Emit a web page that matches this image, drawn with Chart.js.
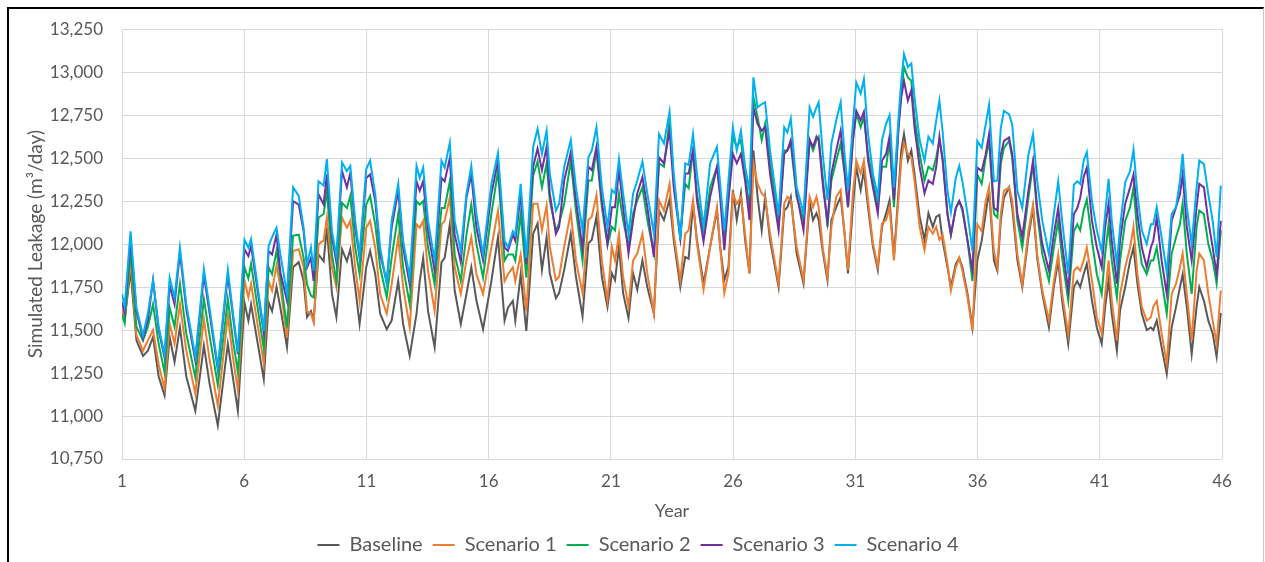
<!DOCTYPE html>
<html>
<head>
<meta charset="utf-8">
<script src="https://cdn.jsdelivr.net/npm/chart.js@4"></script>
<style>
  html, body { margin: 0; padding: 0; background: #fff; }
  #wrap { position: absolute; left: 0; top: 0; width: 1265px; height: 562px; }
  #frame { position: absolute; left: 7px; top: 7px; width: 1254px; height: 600px;
           border-left: 2px solid #000; border-top: 2px solid #000; border-right: 1px solid #c8c8c8;
           pointer-events: none; }
</style>
</head>
<body>
<div id="wrap"><canvas id="leak"></canvas></div>
<div id="frame"></div>
<script>
// time in years (at the turning points of the curves)
const years = [
  1.00,1.11,1.35,1.59,1.86,2.06,2.27,2.50,2.74,2.95,3.15,3.37,3.63,4.00,4.35,4.58,4.92,5.33,5.53,5.74,6.01,6.17,6.28,
  6.80,7.00,7.14,7.32,7.48,7.75,8.00,8.23,8.43,8.57,8.73,8.84,9.04,9.25,9.38,9.59,9.77,10.00,10.20,10.34,10.54,10.72,10.99,11.15,11.36,11.56,11.83,
  12.03,12.30,12.50,12.77,13.05,13.18,13.32,13.52,13.79,14.07,14.20,14.41,14.61,14.86,15.09,15.29,15.50,15.77,16.11,16.38,16.65,16.79,16.99,17.09,17.31,17.54,
  17.82,18.00,18.18,18.37,18.50,18.75,18.88,19.09,19.36,19.57,19.84,20.08,20.22,20.41,20.63,20.86,21.04,21.17,21.33,21.50,21.72,21.91,22.08,22.29,22.49,22.76,22.97,23.17,
  23.40,23.57,23.84,24.04,24.18,24.36,24.52,24.79,25.06,25.34,25.47,25.64,25.81,25.99,26.15,26.32,26.49,26.67,26.83,27.00,27.17,27.31,27.51,27.86,28.09,28.22,28.36,28.60,28.88,
  29.13,29.27,29.41,29.50,29.68,29.86,30.02,30.22,30.40,30.56,30.70,30.90,31.04,31.22,31.35,31.52,31.72,31.92,32.09,32.26,32.40,32.58,32.77,32.88,32.99,33.15,33.29,33.42,33.63,33.83,33.99,34.17,34.31,34.44,
  34.57,34.77,34.91,35.11,35.25,35.38,35.59,35.79,35.99,36.17,36.33,36.47,36.67,36.81,36.95,37.08,37.29,37.42,37.63,37.83,38.08,38.27,38.44,38.65,38.92,39.12,39.30,39.46,39.71,39.94,40.08,
  40.20,40.34,40.47,40.68,40.88,41.08,41.22,41.36,41.49,41.70,41.83,42.04,42.24,42.38,42.54,42.72,42.92,43.09,43.19,43.33,43.53,43.74,43.94,44.12,44.28,44.39,44.56,44.76,44.96,45.07,45.26,45.44,45.62,45.78,45.95
];

const baseline = [
  11600,11565,11845,11440,11350,11380,11460,11230,11120,11460,11315,11515,11230,11030,11410,11190,10945,11420,11230,11030,11660,11555,11650,
  11215,11660,11610,11750,11630,11400,11865,11895,11785,11575,11610,11555,11940,11900,12095,11710,11575,11970,11900,11970,11750,11535,11865,11960,11825,11595,11505,
  11555,11785,11535,11350,11595,11785,11920,11610,11400,11895,11920,12115,11730,11535,11710,11865,11670,11505,11785,12040,11555,11630,11670,11555,11825,11495,
  12060,12120,11850,12040,11830,11685,11715,11850,12060,11810,11580,12005,12025,12160,11810,11635,11830,11790,11985,11715,11570,11830,11735,11905,11750,11595,12195,12140,
  12260,12025,11750,11925,11915,12235,12025,11770,11985,12195,11985,11790,11870,12315,12140,12295,12025,11830,12545,12275,12080,12275,12025,11750,12195,12215,12275,11945,11770,
  12245,12140,12180,12140,11945,11790,12140,12215,12275,12060,11830,12215,12450,12315,12430,12215,11985,11850,12100,12180,12255,11925,12315,12545,12640,12485,12545,12410,12160,12025,12180,12100,12160,12170,
  12020,11865,11750,11885,11920,11865,11710,11515,11905,12020,12175,12310,11905,11845,12135,12270,12330,12210,11905,11750,12040,12210,11920,11710,11515,11750,11905,11670,11420,11750,11785,
  11750,11825,11885,11670,11515,11420,11635,11790,11595,11380,11615,11750,11905,11980,11770,11595,11500,11515,11500,11555,11400,11245,11515,11635,11750,11825,11635,11360,11635,11750,11670,11555,11480,11345,11600
];

const scenario1 = [
  11620,11560,11905,11470,11380,11440,11500,11300,11160,11535,11420,11650,11380,11130,11565,11330,11060,11585,11350,11150,11790,11690,11770,
  11305,11785,11730,11875,11750,11455,11960,11970,11865,11610,11595,11545,12000,12020,12155,11865,11750,12155,12095,12135,11865,11670,12095,12135,11980,11710,11595,
  11765,12040,11750,11515,12115,12095,12135,11845,11610,12115,12135,12270,11865,11710,11905,12040,11825,11710,11980,12195,11785,11825,11865,11785,11940,11610,
  12235,12235,12080,12225,11985,11790,11810,11985,12185,11905,11715,12140,12160,12285,11905,11675,11985,11905,12060,11810,11635,11905,11945,12060,11830,11595,12255,12195,
  12350,12060,11790,12060,12080,12255,12005,11735,11985,12215,11985,11715,11830,12295,12235,12275,12060,11830,12470,12350,12295,12275,12060,11770,12235,12275,12255,11985,11790,
  12275,12215,12275,12215,11965,11810,12100,12275,12315,12060,11850,12295,12485,12410,12485,12255,12005,11870,12120,12140,12215,11905,12275,12485,12585,12525,12505,12370,12100,11965,12100,12060,12100,12025,
  12055,11885,11730,11865,11920,11845,11690,11495,12115,12075,12250,12330,11960,11865,12175,12310,12330,12250,11940,11765,12075,12230,11940,11730,11555,11785,11940,11710,11475,11845,11865,
  11845,11905,11980,11790,11575,11480,11710,11905,11670,11440,11710,11865,11980,12100,11825,11635,11555,11575,11635,11670,11480,11305,11710,11770,11865,11945,11710,11440,11845,11945,11905,11710,11555,11420,11730
];

const scenario2 = [
  11590,11540,11960,11520,11440,11520,11650,11420,11255,11630,11520,11770,11480,11225,11680,11470,11180,11680,11450,11255,11865,11800,11885,
  11390,11865,11825,11960,11805,11515,12050,12055,11920,11765,11700,11690,12155,12175,12310,11940,11785,12240,12210,12280,11980,11825,12230,12280,12115,11865,11690,
  11920,12175,11865,11650,12250,12230,12250,11980,11765,12210,12210,12365,11940,11785,12055,12230,12000,11805,12175,12425,11905,11940,11940,11905,12175,11805,
  12400,12480,12330,12470,12255,12080,12120,12235,12485,12195,11905,12370,12370,12545,12215,11995,12100,12080,12295,12140,11985,12180,12255,12330,12140,11945,12470,12450,
  12720,12370,12040,12350,12325,12545,12295,12060,12330,12450,12295,12040,12315,12625,12565,12605,12410,12215,12855,12740,12605,12700,12485,12100,12545,12545,12585,12275,12140,
  12605,12545,12605,12625,12370,12100,12370,12485,12585,12410,12215,12605,12760,12680,12740,12525,12370,12215,12450,12450,12605,12215,12700,12895,13030,12970,12950,12740,12525,12370,12450,12430,12505,12605,
  12500,12175,12055,12210,12250,12195,12020,11785,12405,12350,12500,12600,12175,12155,12465,12560,12600,12500,12135,11980,12270,12465,12175,11940,11785,11980,12135,11920,11670,12075,12115,
  12080,12195,12260,12020,11825,11710,11945,12115,11905,11690,11905,12135,12215,12330,12060,11885,11825,11905,11905,11980,11790,11595,11945,12040,12115,12235,11945,11710,12100,12195,12175,12000,11905,11770,12080
];

const scenario3 = [
  11660,11600,12030,11610,11450,11560,11790,11500,11340,11760,11650,11950,11620,11320,11820,11600,11270,11820,11590,11360,11970,11930,11990,
  11485,11960,11940,12055,11835,11670,12250,12230,12075,11865,11920,11785,12290,12230,12405,12040,11895,12425,12330,12415,12095,11920,12385,12405,12250,11940,11780,
  12095,12310,11980,11765,12365,12310,12365,12075,11845,12385,12365,12500,12055,11895,12270,12405,12095,11905,12290,12485,11980,11960,12055,12020,12290,11885,
  12450,12555,12430,12565,12295,12060,12100,12370,12535,12255,11975,12450,12430,12565,12255,12005,12215,12215,12430,12215,11945,12140,12295,12390,12215,11925,12505,12470,
  12660,12330,12035,12410,12410,12545,12255,12015,12275,12450,12275,11965,12255,12525,12470,12525,12370,12140,12795,12700,12660,12680,12410,12080,12525,12545,12605,12295,12080,
  12605,12565,12625,12605,12330,12130,12410,12545,12660,12430,12215,12605,12775,12720,12770,12485,12330,12180,12485,12525,12625,12255,12680,12855,12950,12835,12895,12680,12450,12295,12370,12350,12450,12625,
  12485,12175,12055,12210,12250,12210,12020,11845,12445,12425,12520,12640,12210,12195,12520,12600,12620,12520,12175,12040,12310,12485,12210,12000,11845,12055,12210,12000,11730,12175,12210,
  12270,12390,12445,12135,11980,11865,12100,12235,12020,11770,12020,12235,12330,12405,12175,11980,11865,11980,12020,12155,11905,11710,12135,12215,12290,12405,12100,11905,12215,12350,12330,12135,11980,11825,12135
];

const scenario4 = [
  11710,11640,12075,11630,11470,11600,11790,11520,11355,11805,11690,11980,11650,11345,11855,11630,11285,11850,11610,11370,12025,11980,12030,
  11495,11990,12040,12095,11940,11710,12330,12280,12095,11885,11980,11845,12365,12340,12495,12075,11930,12475,12425,12455,12135,11940,12435,12485,12290,11980,11765,
  12135,12350,12020,11805,12455,12385,12445,12135,11905,12485,12445,12590,12135,11960,12290,12455,12175,11940,12350,12530,12020,11980,12075,12055,12350,11920,
  12565,12670,12525,12660,12410,12195,12235,12450,12605,12330,12080,12505,12545,12680,12330,12100,12315,12295,12495,12295,12060,12295,12370,12480,12295,12060,12640,12585,
  12770,12410,12025,12470,12460,12640,12410,12100,12470,12565,12350,12080,12370,12680,12545,12660,12450,12315,12970,12795,12815,12825,12545,12170,12680,12650,12730,12330,12180,
  12795,12740,12795,12825,12505,12255,12585,12720,12825,12525,12315,12700,12940,12875,12960,12640,12410,12275,12605,12700,12750,12330,12740,12950,13105,13030,13050,12855,12605,12485,12625,12585,12720,12835,
  12655,12310,12185,12385,12455,12365,12175,11960,12600,12560,12695,12810,12365,12370,12675,12775,12755,12695,12310,12210,12520,12640,12365,12135,11940,12175,12365,12135,11825,12345,12365,
  12350,12485,12535,12250,12080,11960,12175,12380,12135,11885,12100,12360,12425,12550,12290,12080,12000,12115,12115,12215,12040,11835,12175,12215,12370,12525,12215,12000,12330,12485,12465,12290,12135,11925,12340
];

const seriesNames = ['Baseline', 'Scenario 1', 'Scenario 2', 'Scenario 3', 'Scenario 4'];
const yearTicks = [1, 6, 11, 16, 21, 26, 31, 36, 41, 46];
const leakTicks = [10750, 11000, 11250, 11500, 11750, 12000, 12250, 12500, 12750, 13000, 13250];

const colors = ['#595959', '#ED7D31', '#00B050', '#7030A0', '#00B0F0'];
const allSeries = [baseline, scenario1, scenario2, scenario3, scenario4];
const txt = '#595959';
const fam = "Lato, 'Open Sans', sans-serif";

const datasets = allSeries.map((vals, i) => ({
  label: seriesNames[i],
  data: years.map((t, k) => ({ x: t, y: vals[k] })),
  borderColor: colors[i],
  backgroundColor: colors[i],
  borderWidth: 2,
  pointRadius: 0,
  tension: 0,
  order: 5 - i   // later scenarios drawn on top, like the original
}));

// the legend in the original sits a bit right of the plot centre
const legendShift = {
  id: 'legendShift',
  afterLayout(chart) {
    const lg = chart.legend;
    if (!lg) return;
    lg.left += 22; lg.right += 22;
    (lg.legendHitBoxes || []).forEach(b => { b.left += 22; });
  }
};

new Chart(document.getElementById('leak'), {
  type: 'line',
  data: { datasets },
  plugins: [legendShift],
  options: {
    responsive: true,
    maintainAspectRatio: false,
    animation: false,
    layout: { padding: { left: 10, right: 43, top: 28, bottom: -3 } },
    plugins: {
      legend: {
        position: 'bottom',
        labels: {
          usePointStyle: true, pointStyle: 'line', pointStyleWidth: 22,
          color: txt, font: { family: fam, size: 20 }, padding: 10,
          sort: (a, b) => a.datasetIndex - b.datasetIndex
        }
      },
      tooltip: { enabled: false }
    },
    scales: {
      x: {
        type: 'linear', min: 1, max: 46,
        afterBuildTicks: (ax) => { ax.ticks = yearTicks.map(v => ({ value: v })); },
        afterFit: (s) => { s.height = 66; },
        grid: { color: '#d9d9d9', drawTicks: false },
        border: { display: false },
        ticks: { color: txt, font: { family: fam, size: 17 }, padding: 12, maxRotation: 0 },
        title: { display: true, text: 'Year', color: txt, font: { family: fam, size: 18 }, padding: { top: 4, bottom: 3 } }
      },
      y: {
        min: 10750, max: 13250,
        afterBuildTicks: (ax) => { ax.ticks = leakTicks.map(v => ({ value: v })); },
        afterFit: (s) => { s.width = 112; },
        grid: { color: '#d9d9d9', drawTicks: false },
        border: { display: false },
        ticks: { color: txt, font: { family: fam, size: 17 }, padding: 19,
                 callback: (v) => v.toLocaleString('en-US') },
        title: { display: true, text: 'Simulated Leakage (m\u00B3/day)', color: txt,
                 font: { family: fam, size: 19 }, padding: { top: 14, bottom: 0 } }
      }
    }
  }
});
</script>
</body>
</html>
